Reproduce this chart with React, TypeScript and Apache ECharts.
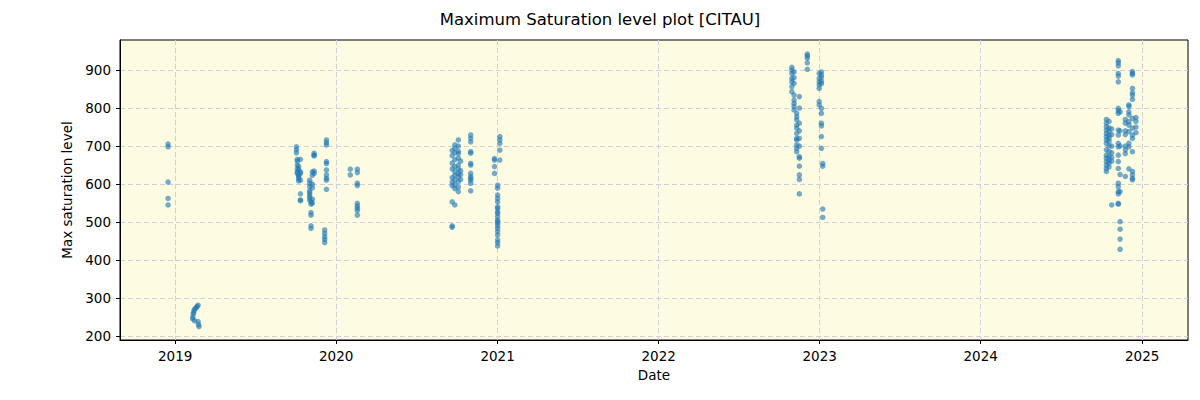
import React, { useEffect, useRef } from "react";
import * as echarts from "echarts";

// Observations: [date, values observed on that date]
const obsDec2018: [string, number[]][] = [["2018-12-16", [705, 698, 605, 562, 545]]];
const obsFeb2019: [string, number[]][] = [
  ["2019-02-10", [250, 245]],
  ["2019-02-11", [258]],
  ["2019-02-12", [262]],
  ["2019-02-13", [268]],
  ["2019-02-14", [240]],
  ["2019-02-15", [272]],
  ["2019-02-18", [275]],
  ["2019-02-20", [278]],
  ["2019-02-22", [281, 238]],
  ["2019-02-23", [230]],
  ["2019-02-24", [225]],
];
const obsLate2019: [string, number[]][] = [
  ["2019-10-03", [698, 690, 682]],
  ["2019-10-05", [665, 660, 650, 640, 632, 628]],
  ["2019-10-08", [646, 638, 623, 619, 615, 608]],
  ["2019-10-12", [665, 632, 628, 610, 574, 556, 558]],
  ["2019-11-02", [610, 602, 593, 582, 577, 571, 565, 558]],
  ["2019-11-05", [553, 547, 525, 518, 490, 483]],
  ["2019-11-08", [632, 623, 600, 590, 560, 550]],
  ["2019-11-12", [681, 674, 676, 634, 628]],
  ["2019-12-06", [479, 470, 461, 454, 446]],
  ["2019-12-10", [716, 709, 703, 659, 654, 637, 624, 615, 610, 586]],
];
const obsFeb2020: [string, number[]][] = [
  ["2020-02-02", [639, 624]],
  ["2020-02-18", [639, 630, 602, 596, 549, 542, 536, 530, 518]],
];
const obsLate2020: [string, number[]][] = [
  ["2020-09-20", [688, 675, 655, 640, 617, 605, 596, 553, 490, 486]],
  ["2020-09-26", [703, 694, 682, 664, 646, 632, 623, 611, 598, 588, 545]],
  ["2020-10-04", [716, 700, 686, 680, 668, 650, 640, 628, 619, 606, 580, 592]],
  ["2020-10-09", [660, 635, 625, 612]],
  ["2020-11-01", [729, 720, 711, 685, 681, 654, 650, 628, 619, 615, 610, 602, 582]],
  ["2020-12-25", [667, 663, 646, 628]],
  ["2021-01-01", [597, 589, 571, 562, 553, 540, 536, 527, 523, 514, 505, 501, 497, 490, 483, 475, 466, 453, 446, 437]],
  ["2021-01-06", [725, 716, 707, 689, 663]],
];
const obsLate2022: [string, number[]][] = [
  ["2022-10-30", [907, 900, 891, 878, 869, 856, 843]],
  ["2022-11-04", [895, 880, 865, 834, 821, 812, 804, 795]],
  ["2022-11-10", [786, 777, 769, 755, 747, 733, 720, 716, 703, 694, 685]],
  ["2022-11-16", [830, 800, 760, 740, 720, 700, 672, 668, 647, 624, 612, 574]],
  ["2022-12-04", [942, 937, 931, 919, 902]],
  ["2022-12-31", [891, 878, 869, 861, 852, 817, 808]],
  ["2023-01-05", [895, 887, 880, 870, 864, 799, 786, 760, 753, 725, 694]],
  ["2023-01-08", [654, 647, 534, 512]],
];
const obsLate2024: [string, number[]][] = [
  ["2024-10-12", [770, 760, 751, 742, 733, 725, 716, 707, 690, 676, 668, 659, 650, 641, 633]],
  ["2024-10-18", [765, 748, 738, 728, 720, 712, 700, 685, 672, 662, 655, 645]],
  ["2024-10-24", [745, 730, 700, 682, 670, 660, 545]],
  ["2024-11-08", [925, 919, 911, 891, 884, 869, 799, 793, 786, 742, 729, 707, 698, 676, 659, 641, 602, 593, 580, 574, 549, 547]],
  ["2024-11-12", [501, 481, 455, 428, 790, 740, 700, 625, 580]],
  ["2024-11-24", [770, 760, 740, 730, 700, 690, 680, 620]],
  ["2024-12-02", [808, 804, 790, 782, 764, 755, 738, 707, 698, 640]],
  ["2024-12-10", [896, 891, 887, 852, 840, 834, 823, 773, 747, 729, 720, 685, 633, 624, 615, 611]],
  ["2024-12-18", [775, 765, 750, 735]],
];

const allObs = [obsDec2018, obsFeb2019, obsLate2019, obsFeb2020, obsLate2020, obsLate2022, obsLate2024];

const FONT = "DejaVu Sans";
const X_MIN = new Date(2018, 7, 29).getTime();
const X_MAX = new Date(2025, 3, 15).getTime();
const Y_MIN = 189.5;
const Y_MAX = 979;

export default function App() {
  const ref = useRef<HTMLDivElement>(null);
  useEffect(() => {
    if (!ref.current) return;
    const chart = echarts.init(ref.current, null, { renderer: "svg" });
    const points: [string, number][] = [];
    allObs.forEach((group) =>
      group.forEach(([d, vals]) => vals.forEach((v) => points.push([d, v])))
    );
    const gridLine = {
      show: true,
      showMinLine: false,
      showMaxLine: false,
      lineStyle: { color: "#d0d0dc", type: [5, 3] as any, width: 1 },
    };
    chart.setOption({
      animation: false,
      textStyle: { fontFamily: FONT },
      title: {
        text: "Maximum Saturation level plot [CITAU]",
        left: "center",
        top: 6,
        textStyle: { fontFamily: FONT, fontSize: 16.5, fontWeight: "normal", color: "#000" },
      },
      grid: {
        left: 120,
        right: 12,
        top: 40,
        bottom: 60,
        show: true,
        backgroundColor: "#fdfbe1",
        borderColor: "#000",
        borderWidth: 1,
        containLabel: false,
      },
      xAxis: {
        type: "time",
        min: X_MIN,
        max: X_MAX,
        splitNumber: 7,
        name: "Date",
        nameLocation: "middle",
        nameGap: 28,
        nameTextStyle: { fontFamily: FONT, fontSize: 13.5, color: "#000" },
        axisLine: { show: true, onZero: false, lineStyle: { color: "#000" } },
        axisTick: { show: true, length: 4, lineStyle: { color: "#000" } },
        axisLabel: {
          fontFamily: FONT,
          fontSize: 13.5,
          color: "#000",
          margin: 9,
          formatter: (val: number) => {
            const d = new Date(val);
            return d.getMonth() === 0 && d.getDate() === 1 ? String(d.getFullYear()) : "";
          },
        },
        splitLine: gridLine,
        minorTick: { show: false },
      },
      yAxis: {
        type: "value",
        min: Y_MIN,
        max: Y_MAX,
        splitNumber: 8,
        name: "Max saturation level",
        nameLocation: "middle",
        nameGap: 44,
        nameTextStyle: { fontFamily: FONT, fontSize: 13.5, color: "#000" },
        axisLine: { show: true, onZero: false, lineStyle: { color: "#000" } },
        axisTick: { show: true, length: 4, lineStyle: { color: "#000" } },
        axisLabel: {
          fontFamily: FONT,
          fontSize: 13.5,
          color: "#000",
          margin: 9,
          showMinLabel: false,
          showMaxLabel: false,
        },
        splitLine: gridLine,
      },
      series: [
        {
          type: "scatter",
          data: points,
          symbolSize: 5.5,
          itemStyle: { color: "#1f77b4", opacity: 0.62 },
        },
      ],
    });
    return () => chart.dispose();
  }, []);
  return (
    <div
      ref={ref}
      style={{ position: "fixed", left: 0, top: 0, width: 1200, height: 400, background: "#fff" }}
    />
  );
}
